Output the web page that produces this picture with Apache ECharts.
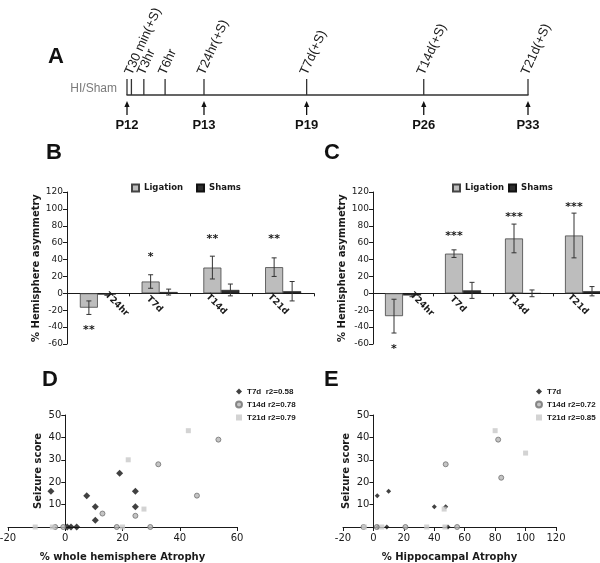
<!DOCTYPE html>
<html><head><meta charset="utf-8">
<script src="https://cdn.jsdelivr.net/npm/echarts/dist/echarts.min.js"></script>
<style>html,body{margin:0;padding:0;background:#fff}#c{width:600px;height:563px}</style>
</head><body><div id="c"></div>
<script>
// ---- Panel A: timeline (schematic positions 0..100) ----
const timeLabels = ['', 'T30 min(+S)', 'T3hr', 'T6hr', 'T24hr(+S)', 'T7d(+S)', 'T14d(+S)', 'T21d(+S)'];
const timePos = [0, 1.1, 4.2, 9.5, 19.2, 44.8, 74, 100];
const pLabels = ['P12', 'P13', 'P19', 'P26', 'P33'];
const pPos = [0, 19.2, 44.8, 74, 100];

// ---- Panels B & C: bar charts ----
const barCats = ['T24hr', 'T7d', 'T14d', 'T21d'];
const bLig = [-17, 14, 30.5, 31];
const bLigErr = [8, 8, 13.5, 11];
const bSham = [-1.5, 1.5, 4, 2.5];
const bShamErr = [0.8, 3.5, 7, 11.5];
const bStars = ['**', '*', '**', '**'];
const bStarY = [-40, 47, 68, 68];

const cLig = [-27, 47, 65, 68.5];
const cLigErr = [20, 4.5, 17, 26.5];
const cSham = [-2.5, 3.5, 0, 2.5];
const cShamErr = [1.5, 9.5, 4, 5.5];
const cStars = ['*', '***', '***', '***'];
const cStarY = [-62, 71, 94, 106];

const barYRange = [-60, 120, 20];   // min, max, interval

// ---- Panel D: seizure score vs % whole hemisphere atrophy ----
const dXRange = [-20, 60];
const dT7d = [[-5, 16], [7.5, 14], [10.5, 9], [10.5, 3], [19, 24], [24.5, 16], [24.5, 9], [0.7, 0], [2, 0], [4, 0]];
const dT14d = [[13, 6], [24.5, 5], [32.5, 28], [46, 14], [53.5, 39], [-3.5, 0], [-0.7, 0], [18, 0], [29.7, 0]];
const dT21d = [[22, 30], [43, 43], [27.5, 8], [-10.5, 0], [20, 0], [-4.5, 0]];
const dNames = ['T7d  r2=0.58', 'T14d r2=0.78', 'T21d r2=0.79'];

// ---- Panel E: seizure score vs % hippocampal atrophy ----
const eXRange = [-20, 120];
const eT7d = [[2.5, 14], [10, 16], [40, 9], [47.5, 9], [8.8, 0], [49, 0], [3, 0]];
const eT14d = [[47.5, 28], [82, 39], [84, 22], [-6.5, 0], [2.2, 0], [21, 0], [55, 0]];
const eT21d = [[80, 43], [100, 33], [46.5, 8], [-6, 0], [5.5, 0], [35, 0], [47, 0]];
const eNames = ['T7d', 'T14d r2=0.72', 'T21d r2=0.85'];

const scoreRange = [0, 50, 10];

// ---- layout (pixels) ----
const G = {
  A: { left: 127, width: 401, top: 60, height: 35 },
  B: { left: 67, width: 247, top: 192, height: 152 },
  C: { left: 373, width: 240, top: 192, height: 152 },
  D: { left: 8, width: 229, top: 415, height: 112 },
  E: { left: 343, width: 213, top: 415, height: 112 }
};
const BAR_W = 18;
// axis offset that puts an axis on the other axis' zero
const zeroOff = (min, max, len) => -(0 - min) / (max - min) * len;

const SANS = '"DejaVu Sans", Verdana, sans-serif';
const ARIAL = '"Liberation Sans", Arial, sans-serif';
const INK = '#1a1a1a';

function errSeries(xi, means, errs, offset) {
  return {
    type: 'custom', xAxisIndex: xi, yAxisIndex: xi, z: 5,
    data: means.map((m, i) => [i, m, errs[i]]),
    renderItem(params, api) {
      const i = api.value(0), m = api.value(1), e = api.value(2);
      const hi = api.coord([i, m + e]), lo = api.coord([i, m - e]);
      const x = hi[0] + offset;
      const st = { stroke: '#333', lineWidth: 1 };
      return { type: 'group', children: [
        { type: 'line', shape: { x1: x, y1: hi[1], x2: x, y2: lo[1] }, style: st },
        { type: 'line', shape: { x1: x - 2.5, y1: hi[1], x2: x + 2.5, y2: hi[1] }, style: st },
        { type: 'line', shape: { x1: x - 2.5, y1: lo[1], x2: x + 2.5, y2: lo[1] }, style: st }
      ]};
    }
  };
}
function starSeries(xi, stars, ys, offset) {
  return {
    type: 'custom', xAxisIndex: xi, yAxisIndex: xi, z: 6,
    data: ys.map((y, i) => [i, y]),
    renderItem(params, api) {
      const p = api.coord([api.value(0), api.value(1)]);
      return { type: 'text', x: p[0] + offset, y: p[1] + 3,
        style: { text: stars[params.dataIndex], fill: INK, font: 'bold 11px ' + SANS,
          align: 'center', verticalAlign: 'middle', textAlign: 'center', textVerticalAlign: 'middle' } };
    }
  };
}
// category labels drawn just under the zero line; moved beside a negative bar so they do not cover it
function catLabelSeries(xi, lig) {
  return {
    type: 'custom', xAxisIndex: xi, yAxisIndex: xi, z: 6,
    data: barCats.map((c, i) => [i, 0]),
    renderItem(params, api) {
      const i = params.dataIndex;
      const p = api.coord([i, 0]);
      const dx = lig[i] < 0 ? BAR_W + 1 : -5;
      return { type: 'text', x: p[0] + dx, y: p[1] + 11, rotation: -Math.PI / 4,
        style: { text: barCats[i], fill: INK, font: 'bold 9px ' + SANS,
          align: 'center', verticalAlign: 'middle', textAlign: 'center', textVerticalAlign: 'middle' } };
    }
  };
}
function barX(gi, g) {
  return { gridIndex: gi, type: 'category', data: barCats,
    offset: zeroOff(barYRange[0], barYRange[1], g.height),
    axisLine: { onZero: false, lineStyle: { color: INK, width: 1 } },
    axisTick: { show: true, length: 3, lineStyle: { color: INK } },
    axisLabel: { show: false },
    splitLine: { show: false } };
}
function barY(gi) {
  return { gridIndex: gi, type: 'value', min: barYRange[0], max: barYRange[1], interval: barYRange[2],
    axisLine: { show: true, lineStyle: { color: INK, width: 1 } },
    axisTick: { show: true, length: 4, lineStyle: { color: INK } },
    splitLine: { show: false },
    axisLabel: { fontSize: 9, color: INK, fontFamily: SANS, margin: 4 },
    name: '% Hemisphere asymmetry', nameLocation: 'middle', nameGap: 26, nameMoveOverlap: false,
    nameTextStyle: { fontWeight: 'bold', fontSize: 10, color: INK, fontFamily: SANS } };
}
function scatX(gi, range, name) {
  return { gridIndex: gi, type: 'value', min: range[0], max: range[1], interval: 20,
    axisLine: { onZero: false, lineStyle: { color: INK, width: 1 } },
    axisTick: { show: true, length: 4, lineStyle: { color: INK } },
    splitLine: { show: false },
    axisLabel: { fontSize: 10, color: INK, fontFamily: SANS, margin: 6 },
    name: name, nameLocation: 'middle', nameGap: 25, nameMoveOverlap: false,
    nameTextStyle: { fontWeight: 'bold', fontSize: 10, color: INK, fontFamily: SANS } };
}
function scatY(gi, xRange, g) {
  return { gridIndex: gi, type: 'value', min: scoreRange[0], max: scoreRange[1], interval: scoreRange[2],
    offset: zeroOff(xRange[0], xRange[1], g.width),
    axisLine: { show: true, onZero: false, lineStyle: { color: INK, width: 1 } },
    axisTick: { show: true, length: 4, lineStyle: { color: INK } },
    splitLine: { show: false },
    axisLabel: { fontSize: 10, color: INK, fontFamily: SANS, margin: 4, showMinLabel: false },
    name: 'Seizure score', nameLocation: 'middle', nameGap: 22, nameMoveOverlap: false,
    nameTextStyle: { fontWeight: 'bold', fontSize: 10, color: INK, fontFamily: SANS } };
}
function panelTitle(t, l, tp) {
  return { text: t, left: l, top: tp, padding: 0,
    textStyle: { fontSize: 22, fontWeight: 'bold', fontFamily: ARIAL, color: '#111' } };
}
const dStyles = [
  { symbol: 'diamond', symbolSize: 7, itemStyle: { color: '#111' } },
  { symbol: 'circle', symbolSize: 5, itemStyle: { color: '#b5b5b5', borderColor: '#707070', borderWidth: 1 } },
  { symbol: 'rect', symbolSize: 5, itemStyle: { color: '#c8c8c8' } }
];
const eStyles = [
  { symbol: 'diamond', symbolSize: 5, itemStyle: { color: '#111' } },
  dStyles[1], dStyles[2]
];
function scat(gi, name, data, st) {
  return Object.assign({ type: 'scatter', name: name, xAxisIndex: gi, yAxisIndex: gi, data: data, z: 4 }, st);
}
const barLegendText = { fontSize: 8.5, fontWeight: 'bold', color: INK, fontFamily: SANS, lineHeight: 10 };
const scatLegendText = { fontSize: 8, fontWeight: 'bold', color: INK, fontFamily: ARIAL, lineHeight: 9 };

const chart = echarts.init(document.getElementById('c'), null, { renderer: 'canvas' });
const option = {
  animation: false,
  backgroundColor: '#fff',
  title: [
    panelTitle('A', 48, 46), panelTitle('B', 46, 142), panelTitle('C', 324, 142),
    panelTitle('D', 42, 369), panelTitle('E', 324, 369)
  ],
  legend: [
    { left: 131, top: 183, padding: 0, itemGap: 13, itemWidth: 7, itemHeight: 7, icon: 'rect',
      data: ['Ligation', 'Shams'], textStyle: barLegendText },
    { left: 452, top: 183, padding: 0, itemGap: 4, itemWidth: 7, itemHeight: 7, icon: 'rect',
      data: ['Ligation', 'Shams'], textStyle: barLegendText },
    { orient: 'vertical', left: 235, top: 387, padding: 0, itemGap: 4, itemWidth: 6, itemHeight: 6,
      data: dNames, textStyle: scatLegendText },
    { orient: 'vertical', left: 535, top: 387, padding: 0, itemGap: 4, itemWidth: 6, itemHeight: 6,
      data: eNames, textStyle: scatLegendText }
  ],
  grid: [
    Object.assign({ outerBoundsMode: 'none' }, G.A),
    Object.assign({ outerBoundsMode: 'none' }, G.B),
    Object.assign({ outerBoundsMode: 'none' }, G.C),
    Object.assign({ outerBoundsMode: 'none' }, G.D),
    Object.assign({ outerBoundsMode: 'none' }, G.E)
  ],
  xAxis: [
    { gridIndex: 0, type: 'value', min: 0, max: 100,
      axisLine: { show: true, onZero: false, lineStyle: { color: '#333', width: 1.5 } },
      axisTick: { show: false }, axisLabel: { show: false }, splitLine: { show: false },
      name: 'HI/Sham', nameLocation: 'start', nameGap: 10, nameMoveOverlap: false,
      nameTextStyle: { color: '#7a7a7a', fontSize: 12, fontFamily: ARIAL, verticalAlign: 'bottom' } },
    barX(1, G.B), barX(2, G.C),
    scatX(3, dXRange, '% whole hemisphere Atrophy'),
    scatX(4, eXRange, '% Hippocampal Atrophy')
  ],
  yAxis: [
    { gridIndex: 0, type: 'value', min: 0, max: 1, show: false },
    barY(1), barY(2), scatY(3, dXRange, G.D), scatY(4, eXRange, G.E)
  ],
  series: [
    { type: 'custom', xAxisIndex: 0, yAxisIndex: 0,
      data: timePos.map((p, i) => [p, i]),
      renderItem(params, api) {
        const p = api.coord([api.value(0), 0]);
        const lab = timeLabels[params.dataIndex];
        const ch = [{ type: 'line', shape: { x1: p[0], y1: p[1], x2: p[0], y2: p[1] - 16 }, style: { stroke: '#333', lineWidth: 1.3 } }];
        if (lab) ch.push({ type: 'text', x: p[0] + 3, y: p[1] - 18, rotation: 66 * Math.PI / 180,
          style: { text: lab, fill: INK, font: '13px ' + ARIAL, align: 'left', verticalAlign: 'bottom', textAlign: 'left', textVerticalAlign: 'bottom' } });
        return { type: 'group', children: ch };
      } },
    { type: 'custom', xAxisIndex: 0, yAxisIndex: 0,
      data: pPos.map((p, i) => [p, i]),
      renderItem(params, api) {
        const p = api.coord([api.value(0), 0]);
        const x = p[0], y = p[1];
        return { type: 'group', children: [
          { type: 'line', shape: { x1: x, y1: y + 10, x2: x, y2: y + 20 }, style: { stroke: '#111', lineWidth: 1.3 } },
          { type: 'polygon', shape: { points: [[x, y + 6], [x - 2.6, y + 12], [x + 2.6, y + 12]] }, style: { fill: '#111' } },
          { type: 'text', x: x, y: y + 30, style: { text: pLabels[params.dataIndex], fill: '#111', font: 'bold 13px ' + ARIAL,
            align: 'center', verticalAlign: 'middle', textAlign: 'center', textVerticalAlign: 'middle' } }
        ]};
      } },
    { type: 'bar', name: 'Ligation', xAxisIndex: 1, yAxisIndex: 1, data: bLig, barWidth: BAR_W, barGap: '0%',
      itemStyle: { color: '#bdbdbd', borderColor: '#444', borderWidth: 0.8 } },
    { type: 'bar', name: 'Shams', xAxisIndex: 1, yAxisIndex: 1, data: bSham, barWidth: BAR_W, barGap: '0%',
      itemStyle: { color: '#2e2e2e', borderColor: '#111', borderWidth: 0.5 } },
    errSeries(1, bLig, bLigErr, -BAR_W / 2), errSeries(1, bSham, bShamErr, BAR_W / 2),
    starSeries(1, bStars, bStarY, -BAR_W / 2), catLabelSeries(1, bLig),
    { type: 'bar', name: 'Ligation', xAxisIndex: 2, yAxisIndex: 2, data: cLig, barWidth: BAR_W, barGap: '0%',
      itemStyle: { color: '#bdbdbd', borderColor: '#444', borderWidth: 0.8 } },
    { type: 'bar', name: 'Shams', xAxisIndex: 2, yAxisIndex: 2, data: cSham, barWidth: BAR_W, barGap: '0%',
      itemStyle: { color: '#2e2e2e', borderColor: '#111', borderWidth: 0.5 } },
    errSeries(2, cLig, cLigErr, -BAR_W / 2), errSeries(2, cSham, cShamErr, BAR_W / 2),
    starSeries(2, cStars, cStarY, -BAR_W / 2), catLabelSeries(2, cLig),
    scat(3, dNames[0], dT7d, dStyles[0]), scat(3, dNames[1], dT14d, dStyles[1]), scat(3, dNames[2], dT21d, dStyles[2]),
    scat(4, eNames[0], eT7d, eStyles[0]), scat(4, eNames[1], eT14d, eStyles[1]), scat(4, eNames[2], eT21d, eStyles[2])
  ]
};
chart.setOption(option);
</script></body></html>
